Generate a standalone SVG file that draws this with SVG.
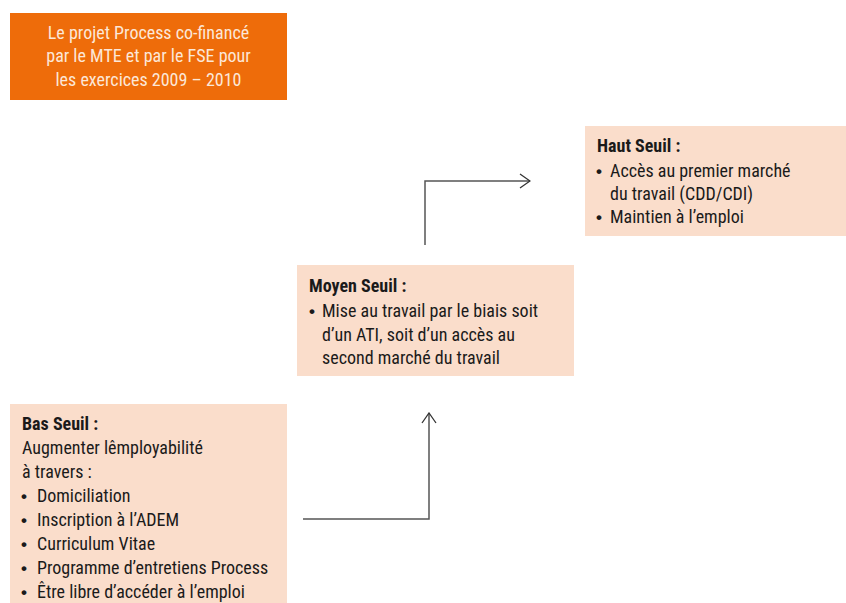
<svg xmlns="http://www.w3.org/2000/svg" width="846" height="603" viewBox="0 0 846 603">
<defs>
<style>
.box{fill:#FADDCB}
.t{font-family:"Liberation Sans Narrow","Roboto Condensed","Liberation Sans",sans-serif;font-size:18px;fill:#1a1a1a}
.b{font-weight:bold}
.d{font-family:"Liberation Sans",sans-serif;font-size:17px;font-weight:bold}
.w{fill:#FCE7D8;text-anchor:middle}
.c{fill:none;stroke:#555;stroke-width:1.5}
</style>
<marker id="ar" viewBox="0 0 12 16" refX="11" refY="8" markerWidth="12" markerHeight="16" markerUnits="userSpaceOnUse" orient="auto">
<path d="M1,1 L11,8 L1,15" fill="none" stroke="#333" stroke-width="1.3"/>
</marker>
</defs>
<rect width="846" height="603" fill="#fff"/>
<g id="title">
<rect x="10" y="13" width="277" height="87" fill="#EE6C0A"/>
<text class="t w" x="148.5" y="39">Le projet Process co-financé</text>
<text class="t w" x="148.5" y="62">par le MTE et par le FSE pour</text>
<text class="t w" x="148.5" y="86">les exercices 2009 – 2010</text>
</g>
<g id="haut">
<rect class="box" x="585" y="126" width="261" height="110"/>
<text class="t b" x="597" y="152">Haut Seuil :</text>
<text class="t d" x="596" y="177">•</text><text class="t" x="610" y="177">Accès au premier marché</text>
<text class="t" x="610" y="200">du travail (CDD/CDI)</text>
<text class="t d" x="596" y="223">•</text><text class="t" x="610" y="223">Maintien à l’emploi</text>
</g>
<g id="moyen">
<rect class="box" x="297" y="265" width="277" height="111"/>
<text class="t b" x="309" y="292">Moyen Seuil :</text>
<text class="t d" x="309" y="317">•</text><text class="t" x="322" y="317">Mise au travail par le biais soit</text>
<text class="t" x="322" y="341">d’un ATI, soit d’un accès au</text>
<text class="t" x="322" y="364">second marché du travail</text>
</g>
<g id="bas">
<rect class="box" x="10" y="404" width="277" height="199"/>
<text class="t b" x="22" y="430">Bas Seuil :</text>
<text class="t" x="22" y="454">Augmenter lêmployabilité</text>
<text class="t" x="22" y="478">à travers :</text>
<text class="t d" x="21" y="502">•</text><text class="t" x="37" y="502">Domiciliation</text>
<text class="t d" x="21" y="526">•</text><text class="t" x="37" y="526">Inscription à l’ADEM</text>
<text class="t d" x="21" y="550">•</text><text class="t" x="37" y="550">Curriculum Vitae</text>
<text class="t d" x="21" y="574">•</text><text class="t" x="37" y="574">Programme d’entretiens Process</text>
<text class="t d" x="21" y="598">•</text><text class="t" x="37" y="598">Être libre d’accéder à l’emploi</text>
</g>
<g id="connectors">
<polyline class="c" points="425,245 425,181 530,181" marker-end="url(#ar)"/>
<polyline class="c" points="303,519 429,519 429,413" marker-end="url(#ar)"/>
</g>
</svg>
